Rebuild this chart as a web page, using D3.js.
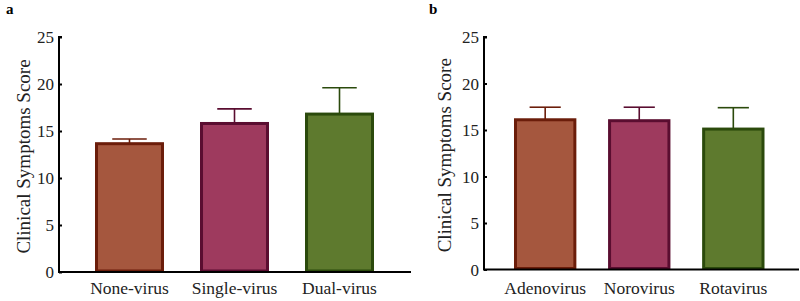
<!DOCTYPE html>
<html>
<head>
<meta charset="utf-8">
<script src="https://cdn.jsdelivr.net/npm/d3@7"></script>
<style>
  body { margin: 0; background: #fff; }
  svg text { font-family: "Liberation Serif", "DejaVu Serif", serif !important; }
</style>
</head>
<body>
<svg id="chart" width="800" height="301"></svg>
<script>
// panel a
let catsA = ["None-virus", "Single-virus", "Dual-virus"];
let meansA = [13.65, 15.8, 16.8];
let errA = [0.5, 1.55, 2.8];
// panel b
let catsB = ["Adenovirus", "Norovirus", "Rotavirus"];
let meansB = [16.1, 16.0, 15.1];
let errB = [1.35, 1.45, 2.3];

let yTicks = [0, 5, 10, 15, 20, 25];
let fills = ["#a5573e", "#9e3a5e", "#5e7a2e"];
let strokes = ["#6b1d0a", "#5a0d30", "#2b4a0c"];

const serif = "'Liberation Serif', 'DejaVu Serif', serif";

let svg = d3.select("#chart");

// draw one panel
function drawPanel(opt) {
  let g = svg.append("g");

  let y = d3.scaleLinear().domain([0, 25]).range([opt.y0, opt.y1]);
  let x = d3.scaleBand().domain(opt.cats).range(opt.xr)
            .paddingInner(opt.pad).paddingOuter(0);

  let data = opt.cats.map((c, i) => ({ cat: c, mean: opt.means[i], err: opt.errs[i], i: i }));
  let bw = x.bandwidth();

  // error bars (behind bars)
  let eb = g.selectAll("g.err").data(data).enter().append("g").attr("class", "err");
  eb.append("line")
    .attr("x1", d => x(d.cat) + bw / 2).attr("x2", d => x(d.cat) + bw / 2)
    .attr("y1", d => y(d.mean)).attr("y2", d => y(d.mean + d.err))
    .attr("stroke", d => strokes[d.i]).attr("stroke-width", 1.6);
  eb.append("line")
    .attr("x1", d => x(d.cat) + bw / 4).attr("x2", d => x(d.cat) + bw * 3 / 4)
    .attr("y1", d => y(d.mean + d.err)).attr("y2", d => y(d.mean + d.err))
    .attr("stroke", d => strokes[d.i]).attr("stroke-width", 1.6);

  // bars
  g.selectAll("rect.bar").data(data).enter().append("rect")
    .attr("class", "bar")
    .attr("x", d => x(d.cat) + 1.5)
    .attr("width", bw - 3)
    .attr("y", d => y(d.mean))
    .attr("height", d => y(0) - y(d.mean) - 1)
    .attr("fill", d => fills[d.i])
    .attr("stroke", d => strokes[d.i])
    .attr("stroke-width", 3);

  // y axis
  let yAxis = g.append("g")
    .attr("transform", `translate(${opt.ax},0)`)
    .call(d3.axisRight(y).tickValues(yTicks).tickSize(3).tickFormat(d3.format("d")))
    .attr("font-family", serif);
  yAxis.select(".domain").attr("stroke", "#000").attr("stroke-width", 2)
    .attr("d", `M3,${opt.y1}H0V${opt.y0}`);
  yAxis.selectAll(".tick line").attr("stroke", "#000").attr("stroke-width", 2);
  yAxis.selectAll(".tick text")
    .attr("x", -5).attr("text-anchor", "end")
    .attr("font-size", 17).attr("fill", "#222")
    .attr("dy", "0.35em");

  // x axis line
  g.append("line")
    .attr("x1", opt.ax - 1).attr("x2", opt.xEnd)
    .attr("y1", opt.y0).attr("y2", opt.y0)
    .attr("stroke", "#000").attr("stroke-width", 2);

  // category labels
  g.selectAll("text.cat").data(data).enter().append("text")
    .attr("class", "cat")
    .attr("x", d => x(d.cat) + bw / 2)
    .attr("y", 294)
    .attr("text-anchor", "middle")
    .attr("font-family", serif)
    .attr("font-size", 17.5).attr("fill", "#222")
    .text(d => d.cat);

  // y title
  g.append("text")
    .attr("transform", `translate(${opt.titleX},${(opt.y0 + opt.y1) / 2 + 2}) rotate(-90)`)
    .attr("text-anchor", "middle")
    .attr("font-family", serif)
    .attr("font-size", 19).attr("fill", "#222")
    .text("Clinical Symptoms Score");

  // panel letter
  g.append("text")
    .attr("x", opt.letterX).attr("y", 14)
    .attr("font-family", serif)
    .attr("font-size", 15).attr("font-weight", "bold")
    .text(opt.letter);
}

drawPanel({ cats: catsA, means: meansA, errs: errA, y0: 272, y1: 37,
            xr: [95, 374], pad: 0.343, ax: 59, xEnd: 411,
            titleX: 30, letter: "a", letterX: 6 });
drawPanel({ cats: catsB, means: meansB, errs: errB, y0: 269.5, y1: 37,
            xr: [514, 764.5], pad: 0.337, ax: 484, xEnd: 799,
            titleX: 451, letter: "b", letterX: 429 });
</script>
</body>
</html>
